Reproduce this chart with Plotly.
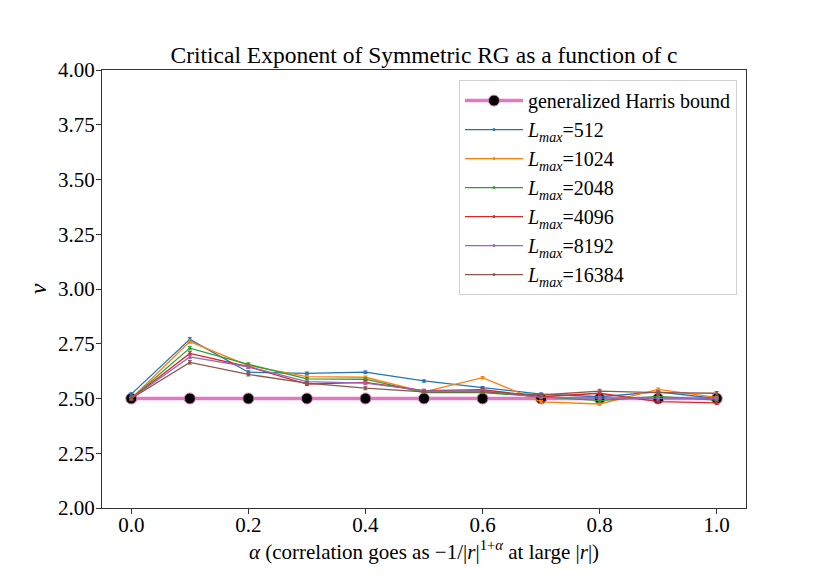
import plotly.graph_objects as go

alpha = [0.0, 0.1, 0.2, 0.3, 0.4, 0.5, 0.6, 0.7, 0.8, 0.9, 1.0]
harris = [2.5, 2.5, 2.5, 2.5, 2.5, 2.5, 2.5, 2.5, 2.5, 2.5, 2.5]

nu_512 = [2.52, 2.77, 2.62, 2.615, 2.62, 2.58, 2.55, 2.52, 2.508, 2.53, 2.50]
nu_1024 = [2.50, 2.76, 2.65, 2.60, 2.597, 2.53, 2.595, 2.485, 2.475, 2.542, 2.505]
nu_2048 = [2.50, 2.73, 2.656, 2.59, 2.588, 2.527, 2.527, 2.51, 2.49, 2.51, 2.493]
nu_4096 = [2.50, 2.706, 2.645, 2.566, 2.574, 2.536, 2.54, 2.508, 2.524, 2.486, 2.48]
nu_8192 = [2.50, 2.69, 2.645, 2.577, 2.57, 2.536, 2.535, 2.505, 2.502, 2.50, 2.50]
nu_16384 = [2.50, 2.665, 2.61, 2.57, 2.547, 2.53, 2.53, 2.516, 2.534, 2.527, 2.524]

err_512 = [0.006, 0.008, 0.007, 0.006, 0.006, 0.005, 0.005, 0.005, 0.005, 0.005, 0.005]
err_1024 = [0.006, 0.008, 0.007, 0.006, 0.006, 0.005, 0.005, 0.006, 0.006, 0.006, 0.006]
err_2048 = [0.006, 0.008, 0.007, 0.006, 0.006, 0.005, 0.005, 0.006, 0.006, 0.006, 0.006]
err_4096 = [0.006, 0.008, 0.007, 0.007, 0.007, 0.006, 0.006, 0.006, 0.007, 0.007, 0.007]
err_8192 = [0.006, 0.008, 0.007, 0.007, 0.007, 0.006, 0.006, 0.007, 0.007, 0.007, 0.007]
err_16384 = [0.006, 0.008, 0.007, 0.007, 0.007, 0.007, 0.007, 0.007, 0.008, 0.008, 0.008]

sizes = ["512", "1024", "2048", "4096", "8192", "16384"]
series = [nu_512, nu_1024, nu_2048, nu_4096, nu_8192, nu_16384]
errors = [err_512, err_1024, err_2048, err_4096, err_8192, err_16384]
colors = ["#1f77b4", "#ff7f0e", "#2ca02c", "#d62728", "#9467bd", "#8c564b"]

font = "Liberation Serif, DejaVu Serif, serif"

fig = go.Figure()

fig.add_trace(go.Scatter(
    x=alpha, y=harris, mode="lines+markers",
    name="generalized Harris bound",
    line=dict(color="#e377c2", width=3.5),
    marker=dict(color="black", size=11, line=dict(color="#e377c2", width=1)),
))

for lab, ys, es, col in zip(sizes, series, errors, colors):
    fig.add_trace(go.Scatter(
        x=alpha, y=ys, mode="lines+markers",
        name="<i>L<sub>max</sub></i>=" + lab,
        line=dict(color=col, width=1.3),
        marker=dict(color=col, size=3),
        error_y=dict(type="data", array=es, visible=True, color=col,
                     thickness=1, width=2),
    ))

# page body adds an 8px offset, so the figure is a bit smaller than the window
fig.update_layout(
    width=822, height=573,
    margin=dict(l=94, r=84, t=62, b=73),
    paper_bgcolor="white", plot_bgcolor="white",
    font=dict(family=font, size=21, color="black"),
    title=dict(text="Critical Exponent of Symmetric RG as a function of c",
               x=0.5, xref="paper", xanchor="center",
               y=1, yref="paper", yanchor="bottom", pad=dict(b=7),
               font=dict(size=23.5)),
    legend=dict(x=0.986, y=0.977, xanchor="right", yanchor="top",
                bgcolor="rgba(255,255,255,0.8)", bordercolor="#d0d0d0",
                borderwidth=1, font=dict(size=20), tracegroupgap=0,
                itemwidth=58),
    showlegend=True,
)

fig.update_xaxes(
    range=[-0.05, 1.05], tickvals=[0, 0.2, 0.4, 0.6, 0.8, 1.0],
    tickformat=".1f", ticks="outside", ticklen=5, tickcolor="#333",
    ticklabelstandoff=-7,
    showline=True, linecolor="#333", linewidth=1, mirror=True,
    showgrid=False, zeroline=False,
    title=dict(text="<i>α</i> (correlation goes as −1/|<i>r</i>|<sup>1+<i>α</i></sup> at large |<i>r</i>|)",
               standoff=0, font=dict(size=21)),
)
fig.update_yaxes(
    range=[2.0, 4.0], dtick=0.25, tickformat=".2f",
    ticks="outside", ticklen=5, tickcolor="#333",
    ticklabelstandoff=-3,
    showline=True, linecolor="#333", linewidth=1, mirror=True,
    showgrid=False, zeroline=False,
    title=dict(text="<i>ν</i>", standoff=4, font=dict(size=24)),
)

fig.write_html("out.html")
